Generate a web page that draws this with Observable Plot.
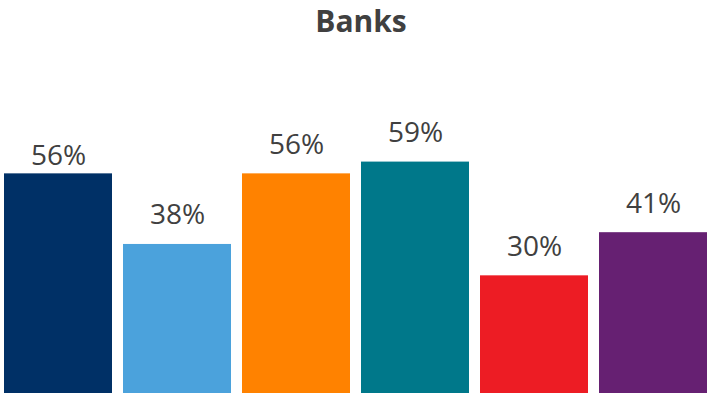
<!DOCTYPE html>
<html>
<head>
<meta charset="utf-8">
<script src="https://cdn.jsdelivr.net/npm/d3@7"></script>
<script src="https://cdn.jsdelivr.net/npm/@observablehq/plot@0.6"></script>
<style>
  html, body { margin: 0; padding: 0; background: #fff; }
  #wrap { width: 710px; height: 394px; overflow: hidden; }
  #title { height: 40px; line-height: 41px; text-align: center; font-family: "Open Sans", sans-serif; font-weight: 700; font-size: 30px; color: #404040; padding-left: 12px; box-sizing: border-box; overflow: visible; }
</style>
</head>
<body>
<div id="wrap">
  <div id="title">Banks</div>
  <div id="chart"></div>
</div>
<script>
const categories = ["A", "B", "C", "D", "E", "F"];
const values = [56, 38, 56, 59, 30, 41];
const labels = ["56%", "38%", "56%", "59%", "30%", "41%"];
const colors = ["#003066", "#4BA2DC", "#FF8200", "#00788A", "#ED1C24", "#662072"];

const data = categories.map((c, i) => ({cat: c, value: values[i], label: labels[i]}));

const textOpts = {x: "cat", y: "value", text: "label", lineAnchor: "bottom", fontSize: 28, fill: "#404040"};

const chart = Plot.plot({
  width: 710,
  height: 354,
  marginLeft: 2,
  marginRight: 0,
  marginTop: 0,
  marginBottom: 1,
  x: {domain: categories, paddingInner: 0.09, paddingOuter: 0, axis: null},
  y: {domain: [0, 90], axis: null},
  color: {domain: categories, range: colors},
  style: {fontFamily: "'Open Sans', sans-serif", background: "#fff"},
  marks: [
    Plot.barY(data, {x: "cat", y: "value", fill: "cat"}),
    Plot.text(data.slice(0, 1), {...textOpts, dy: -9}),
    Plot.text(data.slice(1), {...textOpts, dy: -20})
  ]
});
document.getElementById("chart").appendChild(chart);
</script>
</body>
</html>
